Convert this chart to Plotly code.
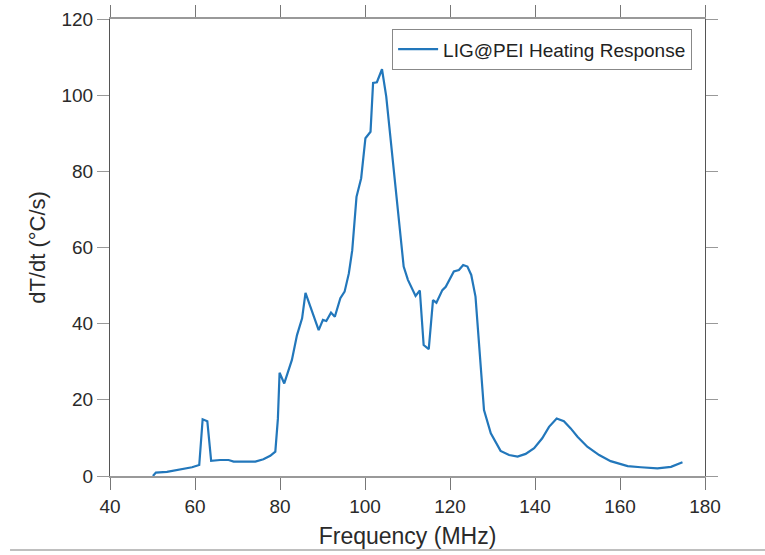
import plotly.graph_objects as go

freq = [50.1, 50.8, 53.4, 56.5, 59.3, 61.0, 61.8, 62.9, 63.8, 65.9, 67.9, 69.1, 72.2, 74.2,
        76.1, 77.7, 78.9, 79.5, 79.9, 81.0, 82.8, 84.0, 85.2, 86.0, 89.1, 90.1, 90.9, 92.0,
        92.9, 94.2, 95.2, 96.2, 97.0, 98.0, 99.1, 100.1, 101.3, 101.9, 102.8, 104.0, 105.0,
        108.0, 109.1, 110.1, 111.9, 112.9, 113.8, 115.0, 116.0, 116.8, 118.2, 119.0, 120.9,
        122.1, 123.1, 124.1, 125.0, 126.0, 127.2, 128.0, 129.6, 131.9, 133.9, 135.9, 137.8,
        139.8, 141.7, 143.3, 145.1, 146.8, 148.4, 150.0, 152.3, 155.1, 157.8, 161.8, 164.9,
        168.8, 172.0, 174.7]
rate = [0.0, 0.9, 1.1, 1.8, 2.3, 2.9, 14.9, 14.4, 4.0, 4.2, 4.2, 3.8, 3.7, 3.8,
        4.4, 5.3, 6.4, 15.0, 27.1, 24.3, 30.5, 37.0, 41.4, 48.1, 38.3, 41.0, 40.7, 42.9,
        41.8, 46.7, 48.4, 53.2, 59.3, 73.3, 78.2, 88.7, 90.4, 103.2, 103.4, 106.8, 99.6,
        66.0, 55.0, 51.5, 47.3, 48.7, 34.4, 33.3, 46.2, 45.5, 48.8, 49.7, 53.7,
        54.1, 55.4, 55.0, 52.8, 47.1, 27.8, 17.3, 11.2, 6.6, 5.5, 5.1, 5.8,
        7.3, 9.9, 12.9, 15.1, 14.4, 12.5, 10.3, 7.7, 5.5, 3.9, 2.6, 2.3,
        2.0, 2.4, 3.6]

x_ticks = [40, 60, 80, 100, 120, 140, 160, 180]
y_ticks = [0, 20, 40, 60, 80, 100, 120]

font_family = "Liberation Sans, Arial, sans-serif"
txt = "#2a2a2a"

fig = go.Figure()
fig.add_trace(go.Scatter(
    x=freq, y=rate, mode="lines",
    line=dict(color="#2277bb", width=2.2),
    name="LIG@PEI Heating Response",
))

fig.update_layout(
    width=765, height=555,
    margin=dict(l=110, r=60, t=19, b=79, autoexpand=False),
    paper_bgcolor="white", plot_bgcolor="white",
    font=dict(family=font_family, size=19, color=txt),
    showlegend=True,
    legend=dict(
        x=0.978, y=0.978, xanchor="right", yanchor="top",
        bgcolor="white", bordercolor="#888888", borderwidth=1.2,
        font=dict(size=19, color="#222222"),
        itemwidth=40, tracegroupgap=0,
    ),
)

fig.update_xaxes(
    range=[40, 180], tickvals=x_ticks, ticktext=[str(t) for t in x_ticks],
    showgrid=False, zeroline=False, automargin=False,
    showline=True, linecolor="#999999", linewidth=1.5, mirror="ticks",
    ticks="outside", ticklen=12, tickcolor="#777777", tickwidth=1.2,
    tickfont=dict(size=19, color=txt),
    title=dict(text="Frequency (MHz)", font=dict(size=23, color=txt), standoff=12),
)
fig.update_yaxes(
    range=[0, 120], tickvals=y_ticks, ticktext=[str(t) for t in y_ticks],
    showgrid=False, zeroline=False, automargin=False,
    showline=True, linecolor="#555555", linewidth=1.2, mirror="ticks",
    ticks="outside", ticklen=12, tickcolor="#999999", tickwidth=1.2,
    tickfont=dict(size=19, color=txt),
    title=dict(text="dT/dt (°C/s)", font=dict(size=22, color=txt), standoff=9),
)

fig.add_shape(type="line", xref="paper", yref="paper",
              x0=-0.168, x1=1.11, y0=-0.162, y1=-0.162,
              line=dict(color="#aaaaaa", width=1.5))

fig.write_html("out.html")
